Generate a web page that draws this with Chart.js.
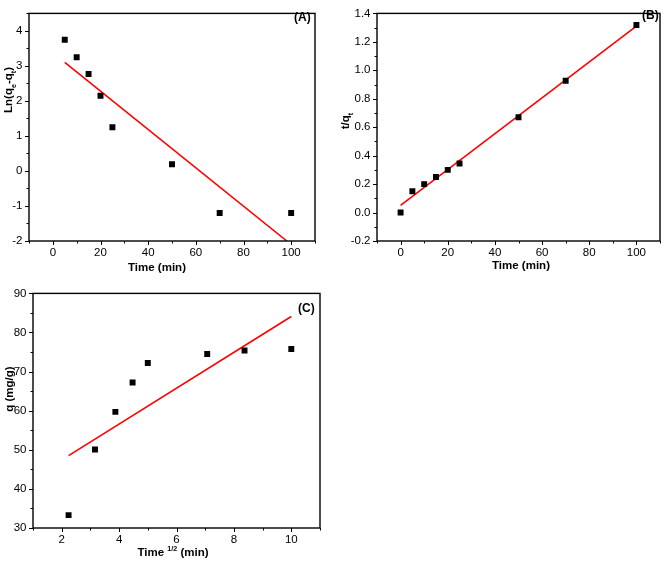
<!DOCTYPE html>
<html>
<head>
<meta charset="utf-8">
<script src="https://cdn.jsdelivr.net/npm/chart.js@4.4.0/dist/chart.umd.min.js"></script>
<style>
html, body { margin: 0; padding: 0; background: #fff; }
#wrap { position: relative; width: 665px; height: 564px; }
canvas { position: absolute; }
</style>
</head>
<body>
<div id="wrap">
<canvas id="chartA" width="330" height="280" style="left:0;top:0"></canvas>
<canvas id="chartB" width="335" height="280" style="left:330px;top:0"></canvas>
<canvas id="chartC" width="330" height="284" style="left:0;top:280px"></canvas>
</div>
<script>

// Data ------------------------------------------------------------------------------

// (A) pseudo-first-order
var timeA = [5, 10, 15, 20, 25, 50, 70, 100];
var lnQeQtA = [3.75, 3.25, 2.77, 2.15, 1.25, 0.19, -1.2, -1.2];
var fitTimeA = [5, 98.2];
var fitLnA = [3.1, -2.0];
var xTicksA = [0, 20, 40, 60, 80, 100];
var yTicksA = [-2, -1, 0, 1, 2, 3, 4];

// (B) pseudo-second-order
var timeB = [0, 5, 10, 15, 20, 25, 50, 70, 100];
var tQtB = [0, 0.15, 0.2, 0.25, 0.3, 0.345, 0.67, 0.927, 1.318];
var fitTimeB = [0, 100];
var fitTQtB = [0.05, 1.31];
var xTicksB = [0, 20, 40, 60, 80, 100];
var yTicksB = [-0.2, 0.0, 0.2, 0.4, 0.6, 0.8, 1.0, 1.2, 1.4];

// (C) intraparticle diffusion
var sqrtTimeC = [2.24, 3.16, 3.87, 4.47, 5, 7.07, 8.37, 10];
var qC = [33.3, 50.1, 59.7, 67.2, 72.2, 74.5, 75.4, 75.8];
var fitSqrtTimeC = [2.24, 10];
var fitQC = [48.5, 84.1];
var xTicksC = [2, 4, 6, 8, 10];
var yTicksC = [30, 40, 50, 60, 70, 80, 90];

// Constants ------------------------------------------------------------------------------

var FONT = '"Liberation Sans", Arial, sans-serif';
var TICK_SIZE = 11.5;
var TITLE_SIZE = 11.5;

Chart.defaults.font.family = FONT;
Chart.defaults.color = '#000';

// Functions ------------------------------------------------------------------------------

function toPoints(xs, ys) {
    return xs.map(function (x, i) { return { x: x, y: ys[i] }; });
}

function isMajor(list, v) {
    return list.some(function (m) { return Math.abs(m - v) < 1e-6; });
}

function fmt(v, dec) {
    if (Math.abs(v) < 1e-9) v = 0;
    return v.toFixed(dec);
}

function drawRich(ctx, parts, x, y, rotate) {
    ctx.save();
    ctx.translate(x, y);
    if (rotate) ctx.rotate(-Math.PI / 2);
    var total = 0;
    parts.forEach(function (p) {
        var size = p.sub || p.sup ? TITLE_SIZE * 0.62 : TITLE_SIZE;
        p.font = 'bold ' + size + 'px ' + FONT;
        ctx.font = p.font;
        p.w = ctx.measureText(p.t).width;
        total += p.w;
    });
    var cx = -total / 2;
    ctx.fillStyle = '#000';
    ctx.textAlign = 'left';
    ctx.textBaseline = 'alphabetic';
    var base = TITLE_SIZE * 0.36;
    parts.forEach(function (p) {
        ctx.font = p.font;
        var dy = p.sub ? TITLE_SIZE * 0.3 : (p.sup ? -TITLE_SIZE * 0.42 : 0);
        ctx.fillText(p.t, cx, base + dy);
        cx += p.w;
    });
    ctx.restore();
}

var framePlugin = {
    id: 'frame',
    afterDraw: function (chart, args, opts) {
        var ctx = chart.ctx, a = chart.chartArea;
        var xs = chart.scales.x, ys = chart.scales.y;
        ctx.save();
        ctx.strokeStyle = '#000';
        ctx.lineWidth = 1.4;
        ctx.strokeRect(a.left, a.top, a.right - a.left, a.bottom - a.top);
        ctx.lineWidth = 1;
        ctx.beginPath();
        xs.ticks.forEach(function (t) {
            var px = Math.round(xs.getPixelForValue(t.value)) + 0.5;
            var len = isMajor(opts.xMajor, t.value) ? 4 : 2.5;
            ctx.moveTo(px, a.bottom);
            ctx.lineTo(px, a.bottom + len);
        });
        ys.ticks.forEach(function (t) {
            var py = Math.round(ys.getPixelForValue(t.value)) + 0.5;
            var len = isMajor(opts.yMajor, t.value) ? 4 : 2.5;
            ctx.moveTo(a.left, py);
            ctx.lineTo(a.left - len, py);
        });
        ctx.stroke();
        ctx.restore();

        drawRich(ctx, opts.xTitle, opts.xTitlePos[0], opts.xTitlePos[1], false);
        drawRich(ctx, opts.yTitle, opts.yTitlePos[0], opts.yTitlePos[1], true);

        ctx.save();
        ctx.font = 'bold 12px ' + FONT;
        ctx.fillStyle = '#000';
        ctx.textAlign = 'left';
        ctx.textBaseline = 'middle';
        ctx.fillText(opts.tag, opts.tagPos[0], opts.tagPos[1]);
        ctx.restore();
    }
};

function initPanel(id, p) {
    var canvas = document.getElementById(id);
    var W = canvas.width, H = canvas.height;
    return new Chart(canvas.getContext('2d'), {
        type: 'scatter',
        data: {
            datasets: [{
                data: toPoints(p.xs, p.ys),
                pointStyle: 'rect',
                pointRadius: 4.2,
                pointBackgroundColor: '#000',
                pointBorderWidth: 0,
                showLine: false
            }, {
                data: toPoints(p.fitX, p.fitY),
                showLine: true,
                borderColor: '#ff0000',
                borderWidth: 1.6,
                pointRadius: 0
            }]
        },
        options: {
            responsive: false,
            animation: false,
            devicePixelRatio: 1,
            layout: { padding: { left: 0, top: p.box.top, right: W - p.box.right, bottom: 0 } },
            plugins: {
                legend: { display: false },
                tooltip: { enabled: false },
                frame: {
                    xMajor: p.xTicks, yMajor: p.yTicks,
                    xTitle: p.xTitle, xTitlePos: p.xTitlePos,
                    yTitle: p.yTitle, yTitlePos: p.yTitlePos,
                    tag: p.tag, tagPos: p.tagPos
                }
            },
            scales: {
                x: {
                    type: 'linear',
                    min: p.xRange[0], max: p.xRange[1],
                    grid: { display: false, drawTicks: false },
                    border: { display: false },
                    afterFit: function (s) { s.height = H - p.box.bottom; },
                    ticks: {
                        stepSize: p.xStep, padding: 5, autoSkip: false, maxRotation: 0,
                        font: { size: TICK_SIZE },
                        callback: function (v) { return isMajor(p.xTicks, v) ? fmt(v, p.xDec) : ''; }
                    }
                },
                y: {
                    type: 'linear',
                    min: p.yRange[0], max: p.yRange[1],
                    grid: { display: false, drawTicks: false },
                    border: { display: false },
                    afterFit: function (s) { s.width = p.box.left; },
                    ticks: {
                        stepSize: p.yStep, padding: 6.5, autoSkip: false,
                        font: { size: TICK_SIZE },
                        callback: function (v) { return isMajor(p.yTicks, v) ? fmt(v, p.yDec) : ''; }
                    }
                }
            }
        },
        plugins: [framePlugin]
    });
}

initPanel('chartA', {
    xs: timeA, ys: lnQeQtA, fitX: fitTimeA, fitY: fitLnA,
    xTicks: xTicksA, yTicks: yTicksA,
    xRange: [-10, 110], xStep: 10, xDec: 0,
    yRange: [-2, 4.5], yStep: 0.5, yDec: 0,
    box: { left: 29, top: 5, right: 315, bottom: 241 },
    xTitle: [{ t: 'Time (min)' }], xTitlePos: [157, 267],
    yTitle: [{ t: 'Ln(q' }, { t: 'e', sub: true }, { t: '-q' }, { t: 't', sub: true }, { t: ')' }], yTitlePos: [8, 90],
    tag: '(A)', tagPos: [294, 18]
});

initPanel('chartB', {
    xs: timeB, ys: tQtB, fitX: fitTimeB, fitY: fitTQtB,
    xTicks: xTicksB, yTicks: yTicksB,
    xRange: [-10, 110], xStep: 10, xDec: 0,
    yRange: [-0.2, 1.4], yStep: 0.1, yDec: 1,
    box: { left: 47, top: 6, right: 333, bottom: 241 },
    xTitle: [{ t: 'Time (min)' }], xTitlePos: [191, 265],
    yTitle: [{ t: 't/q' }, { t: 't', sub: true }], yTitlePos: [15, 121],
    tag: '(B)', tagPos: [312, 16]
});

initPanel('chartC', {
    xs: sqrtTimeC, ys: qC, fitX: fitSqrtTimeC, fitY: fitQC,
    xTicks: xTicksC, yTicks: yTicksC,
    xRange: [1, 11], xStep: 1, xDec: 0,
    yRange: [30, 90], yStep: 5, yDec: 0,
    box: { left: 33, top: 13, right: 320, bottom: 248 },
    xTitle: [{ t: 'Time ' }, { t: '1/2', sup: true }, { t: ' (min)' }], xTitlePos: [173, 272],
    yTitle: [{ t: 'q (mg/g)' }], yTitlePos: [9, 109],
    tag: '(C)', tagPos: [298, 29]
});
</script>
</body>
</html>
